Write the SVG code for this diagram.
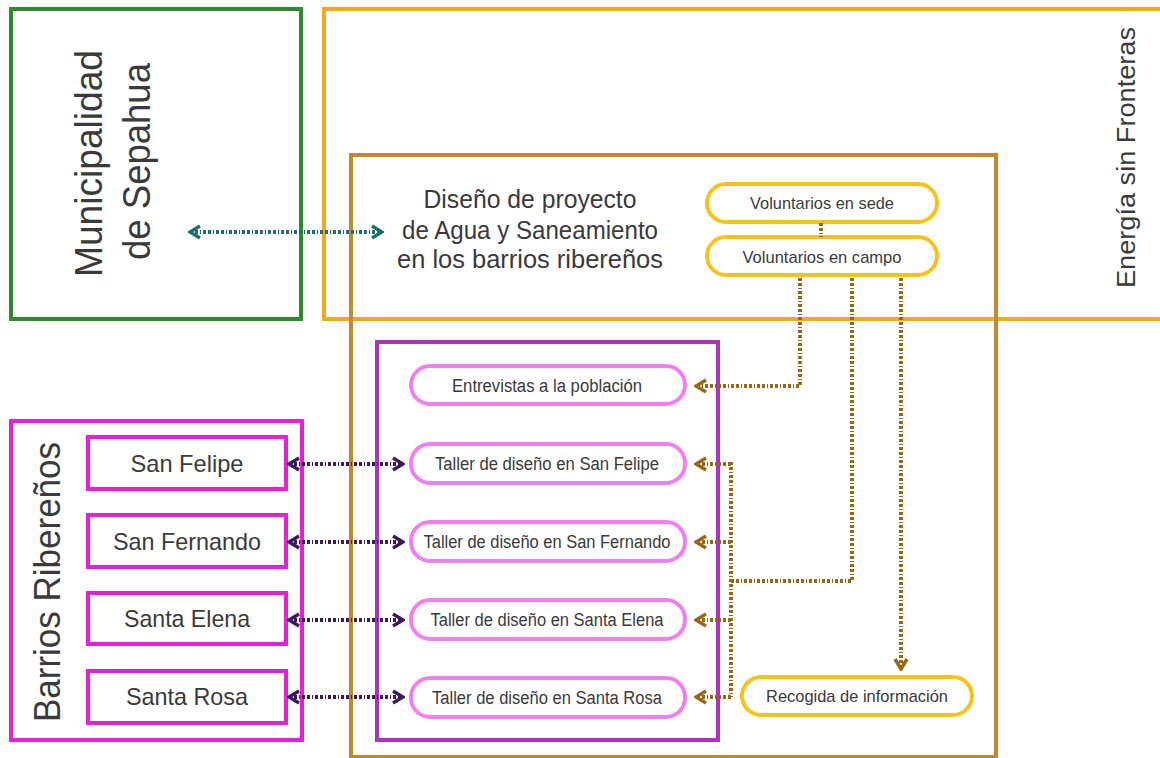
<svg xmlns="http://www.w3.org/2000/svg" width="1160" height="758" viewBox="0 0 1160 758">
<style>
text{font-family:"Liberation Sans","DejaVu Sans",sans-serif;fill:#3a3a3a;text-anchor:middle}
.frame{fill:none;stroke-width:4}
.pill{fill:#fff;stroke:#f27ff0;stroke-width:4}
.ypill{fill:#fff;stroke:#f7c21a;stroke-width:4}
.mbox{fill:#fff;stroke:#e620d8;stroke-width:4}
.lbl{font-size:18px}
.con{fill:none;stroke-width:4;stroke-dasharray:3 2 3 2 1 2}
.teal{stroke:#1f6e6e}
.dp{stroke:#3b1a5c}
.br{stroke:#9a6514}
</style>
<defs>
<marker id="aT" viewBox="0 0 14 16" refX="12" refY="8" markerWidth="14" markerHeight="16" markerUnits="userSpaceOnUse" orient="auto-start-reverse"><path d="M2,2 L12,8 L2,14" fill="none" stroke="#1f6e6e" stroke-width="3.5"/></marker>
<marker id="aP" viewBox="0 0 14 16" refX="12" refY="8" markerWidth="14" markerHeight="16" markerUnits="userSpaceOnUse" orient="auto-start-reverse"><path d="M2,2 L12,8 L2,14" fill="none" stroke="#3b1a5c" stroke-width="3.5"/></marker>
<marker id="aB" viewBox="0 0 14 16" refX="12" refY="8" markerWidth="14" markerHeight="16" markerUnits="userSpaceOnUse" orient="auto-start-reverse"><path d="M2,2 L12,8 L2,14" fill="none" stroke="#9a6514" stroke-width="3.5"/></marker>
</defs>

<g id="municipalidad">
<rect class="frame" x="11" y="9" width="290" height="310" stroke="#2f8a2f"/>
<text font-size="39" transform="translate(102,163.5) rotate(-90)" textLength="227" lengthAdjust="spacingAndGlyphs">Municipalidad</text>
<text font-size="39" transform="translate(150,161.5) rotate(-90)" textLength="197" lengthAdjust="spacingAndGlyphs">de Sepahua</text>
</g>

<g id="energia">
<rect class="frame" x="324" y="9" width="850" height="310" stroke="#f5a81c"/>
<text font-size="25" transform="translate(1135,157.5) rotate(-90)" textLength="261" lengthAdjust="spacingAndGlyphs">Energía sin Fronteras</text>
</g>

<g id="proyecto">
<rect class="frame" x="351" y="155" width="645" height="602" stroke="#c48a2a"/>
<text font-size="26" x="530" y="208" textLength="213" lengthAdjust="spacingAndGlyphs">Diseño de proyecto</text>
<text font-size="26" x="530" y="239" textLength="256" lengthAdjust="spacingAndGlyphs">de Agua y Saneamiento</text>
<text font-size="26" x="530" y="268" textLength="266" lengthAdjust="spacingAndGlyphs">en los barrios ribereños</text>
</g>

<g id="talleres">
<rect class="frame" x="377" y="342" width="341" height="398" stroke="#b030c0"/>
</g>

<g id="barrios">
<rect class="frame" x="11" y="421" width="291" height="319" stroke="#e620d8"/>
<text font-size="36" transform="translate(60,582) rotate(-90)" textLength="280" lengthAdjust="spacingAndGlyphs">Barrios Ribereños</text>
</g>

<g id="san-felipe"><rect class="mbox" x="88" y="437" width="198" height="52"/><text font-size="24" x="187" y="472" textLength="113" lengthAdjust="spacingAndGlyphs">San Felipe</text></g>
<g id="san-fernando"><rect class="mbox" x="88" y="515" width="198" height="52"/><text font-size="24" x="187" y="550" textLength="148" lengthAdjust="spacingAndGlyphs">San Fernando</text></g>
<g id="santa-elena"><rect class="mbox" x="88" y="593" width="198" height="51"/><text font-size="24" x="187" y="627" textLength="126" lengthAdjust="spacingAndGlyphs">Santa Elena</text></g>
<g id="santa-rosa"><rect class="mbox" x="88" y="671" width="198" height="52"/><text font-size="24" x="187" y="705" textLength="122" lengthAdjust="spacingAndGlyphs">Santa Rosa</text></g>

<g id="entrevistas"><rect class="pill" x="411" y="366" width="274" height="38" rx="19"/><text class="lbl" x="547" y="392" textLength="190" lengthAdjust="spacingAndGlyphs">Entrevistas a la población</text></g>
<g id="taller-san-felipe"><rect class="pill" x="411" y="444" width="274" height="39" rx="19"/><text class="lbl" x="547" y="470" textLength="224" lengthAdjust="spacingAndGlyphs">Taller de diseño en San Felipe</text></g>
<g id="taller-san-fernando"><rect class="pill" x="411" y="522" width="274" height="39" rx="19"/><text class="lbl" x="547" y="548" textLength="247" lengthAdjust="spacingAndGlyphs">Taller de diseño en San Fernando</text></g>
<g id="taller-santa-elena"><rect class="pill" x="411" y="600" width="274" height="39" rx="19"/><text class="lbl" x="547" y="626" textLength="233" lengthAdjust="spacingAndGlyphs">Taller de diseño en Santa Elena</text></g>
<g id="taller-santa-rosa"><rect class="pill" x="411" y="678" width="274" height="39" rx="19"/><text class="lbl" x="547" y="704" textLength="230" lengthAdjust="spacingAndGlyphs">Taller de diseño en Santa Rosa</text></g>

<g id="voluntarios-sede"><rect class="ypill" x="707" y="184" width="230" height="38" rx="19"/><text font-size="17" x="822" y="209" textLength="144" lengthAdjust="spacingAndGlyphs">Voluntarios en sede</text></g>
<g id="voluntarios-campo"><rect class="ypill" x="707" y="237" width="230" height="38" rx="19"/><text font-size="17" x="822" y="263" textLength="159" lengthAdjust="spacingAndGlyphs">Voluntarios en campo</text></g>
<g id="recogida"><rect class="ypill" x="742" y="677" width="230" height="38" rx="19"/><text font-size="17" x="857" y="702" textLength="182" lengthAdjust="spacingAndGlyphs">Recogida de información</text></g>

<g id="connectors">
<path class="con teal" d="M190,232 H382" marker-start="url(#aT)" marker-end="url(#aT)"/>
<path class="con dp" d="M289,464 H403" marker-start="url(#aP)" marker-end="url(#aP)"/>
<path class="con dp" d="M289,542 H403" marker-start="url(#aP)" marker-end="url(#aP)"/>
<path class="con dp" d="M289,620 H403" marker-start="url(#aP)" marker-end="url(#aP)"/>
<path class="con dp" d="M289,697 H403" marker-start="url(#aP)" marker-end="url(#aP)"/>
<path class="con br" d="M821,223 V237"/>
<path class="con br" d="M800,278 V386 H696" marker-end="url(#aB)"/>
<path class="con br" d="M852,278 V581 H731"/>
<path class="con br" d="M731,462 V697"/>
<path class="con br" d="M731,464 H696" marker-end="url(#aB)"/>
<path class="con br" d="M731,542 H696" marker-end="url(#aB)"/>
<path class="con br" d="M731,620 H696" marker-end="url(#aB)"/>
<path class="con br" d="M731,697 H696" marker-end="url(#aB)"/>
<path class="con br" d="M901,278 V669" marker-end="url(#aB)"/>
</g>
</svg>
